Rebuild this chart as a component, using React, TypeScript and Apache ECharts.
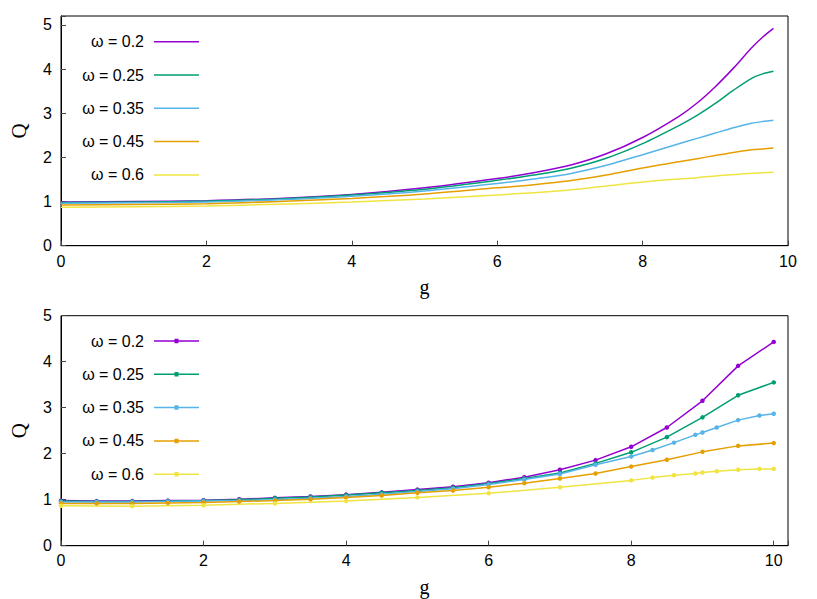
import React, { useEffect, useRef } from 'react';
import * as echarts from 'echarts';

const seriesNames = ['ω = 0.2', 'ω = 0.25', 'ω = 0.35', 'ω = 0.45', 'ω = 0.6'];
const colors = ['#9400d3', '#009e73', '#56b4e9', '#e69f00', '#f0e442'];

// Upper panel (smooth curves)
const topG = [0, 1, 2, 3, 4, 5, 6, 6.5, 7, 7.5, 8, 8.5, 8.75, 9, 9.25, 9.5, 9.65, 9.8];
const topQ020 = [0.99, 1.0, 1.02, 1.07, 1.16, 1.31, 1.52, 1.65, 1.82, 2.08, 2.45, 2.93, 3.23, 3.6, 4.02, 4.48, 4.72, 4.92];
const topQ025 = [0.98, 0.99, 1.01, 1.06, 1.15, 1.28, 1.48, 1.6, 1.75, 1.98, 2.31, 2.72, 2.95, 3.22, 3.52, 3.79, 3.89, 3.95];
const topQ035 = [0.96, 0.97, 0.99, 1.04, 1.12, 1.24, 1.41, 1.51, 1.63, 1.82, 2.06, 2.31, 2.43, 2.55, 2.67, 2.77, 2.81, 2.84];
const topQ045 = [0.92, 0.93, 0.95, 1.0, 1.07, 1.17, 1.31, 1.38, 1.47, 1.6, 1.76, 1.9, 1.97, 2.04, 2.11, 2.17, 2.19, 2.21];
const topQ060 = [0.87, 0.88, 0.9, 0.94, 0.99, 1.06, 1.15, 1.2, 1.26, 1.35, 1.44, 1.51, 1.54, 1.58, 1.61, 1.64, 1.65, 1.66];

// Lower panel (lines with points)
const botG020 = [0, 0.5, 1, 1.5, 2, 2.5, 3, 3.5, 4, 4.5, 5, 5.5, 6, 6.5, 7, 7.5, 8, 8.5, 9, 9.5, 10];
const botQ020 = [0.98, 0.97, 0.97, 0.98, 0.99, 1.01, 1.04, 1.07, 1.11, 1.16, 1.22, 1.28, 1.37, 1.49, 1.65, 1.86, 2.15, 2.57, 3.15, 3.91, 4.43];
const botG025 = [0, 0.5, 1, 1.5, 2, 2.5, 3, 3.5, 4, 4.5, 5, 5.5, 6, 6.5, 7, 7.5, 8, 8.5, 9, 9.5, 10];
const botQ025 = [0.97, 0.96, 0.96, 0.97, 0.98, 1.0, 1.03, 1.06, 1.1, 1.15, 1.2, 1.26, 1.35, 1.46, 1.58, 1.79, 2.03, 2.36, 2.79, 3.27, 3.55];
const botG035 = [0, 0.5, 1, 1.5, 2, 2.5, 3, 3.5, 4, 4.5, 5, 5.5, 6, 6.5, 7, 7.5, 8, 8.3, 8.6, 8.9, 9, 9.2, 9.5, 9.8, 10];
const botQ035 = [0.95, 0.95, 0.95, 0.96, 0.97, 0.98, 1.0, 1.03, 1.07, 1.12, 1.18, 1.24, 1.33, 1.44, 1.56, 1.76, 1.94, 2.08, 2.24, 2.41, 2.46, 2.57, 2.73, 2.83, 2.87];
const botG045 = [0, 0.5, 1, 1.5, 2, 2.5, 3, 3.5, 4, 4.5, 5, 5.5, 6, 6.5, 7, 7.5, 8, 8.5, 9, 9.5, 10];
const botQ045 = [0.92, 0.92, 0.92, 0.93, 0.94, 0.96, 0.98, 1.01, 1.05, 1.09, 1.15, 1.2, 1.27, 1.36, 1.46, 1.57, 1.72, 1.87, 2.04, 2.17, 2.23];
const botG060 = [0, 1, 2, 3, 4, 5, 6, 7, 8, 8.3, 8.6, 8.9, 9, 9.2, 9.5, 9.8, 10];
const botQ060 = [0.87, 0.86, 0.88, 0.92, 0.97, 1.05, 1.14, 1.27, 1.42, 1.48, 1.53, 1.57, 1.59, 1.62, 1.65, 1.67, 1.67];

const xTicks = [0, 2, 4, 6, 8, 10];
const yTicks = [0, 1, 2, 3, 4, 5];

const topQ = [topQ020, topQ025, topQ035, topQ045, topQ060];
const botG = [botG020, botG025, botG035, botG045, botG060];
const botQ = [botQ020, botQ025, botQ035, botQ045, botQ060];

const SANS = 'Liberation Sans, Arial, sans-serif';
const SERIF = 'Liberation Serif, Times New Roman, serif';

const zip = (xs: number[], ys: number[]) => xs.map((x, i) => [x, ys[i]]);

function App() {
  const ref = useRef<HTMLDivElement>(null);
  useEffect(() => {
    if (!ref.current) return;
    const chart = echarts.init(ref.current, null, { renderer: 'svg' });

    const tickFmt = (list: number[]) => (v: number) => (list.includes(v) ? String(v) : '');

    const xAxisBase = (gridIndex: number, max: number, margin: number) => ({
      type: 'value',
      gridIndex,
      min: 0,
      max,
      interval: 2,
      name: 'g',
      nameLocation: 'middle',
      nameGap: 31,
      nameTextStyle: { fontFamily: SERIF, fontSize: 20, color: '#000' },
      axisLine: { show: true, lineStyle: { color: '#000', width: 1 } },
      axisTick: { show: true, inside: true, length: 5, lineStyle: { color: '#444' } },
      axisLabel: { margin, fontFamily: SANS, fontSize: 16, color: '#000', formatter: tickFmt(xTicks) },
      splitLine: { show: false },
    });
    const yAxisBase = (gridIndex: number, max: number) => ({
      type: 'value',
      gridIndex,
      min: 0,
      max,
      interval: 1,
      name: 'Q',
      nameLocation: 'middle',
      nameGap: 32,
      nameTextStyle: { fontFamily: SERIF, fontSize: 21, color: '#000' },
      axisLine: { show: true, lineStyle: { color: '#000', width: 1 } },
      axisTick: { show: true, inside: true, length: 5, lineStyle: { color: '#444' } },
      axisLabel: { margin: 9, fontFamily: SANS, fontSize: 16, color: '#000', formatter: tickFmt(yTicks) },
      splitLine: { show: false },
    });

    const legendBase = (top: number, icon: string) => ({
      orient: 'vertical',
      align: 'right',
      right: 618,
      top,
      padding: 0,
      itemWidth: 45,
      itemHeight: 14,
      itemGap: 17.3,
      icon,
      itemStyle: { borderWidth: 0 },
      textStyle: { fontFamily: SANS, fontSize: 16, color: '#000', lineHeight: 14, padding: [0, 5, 0, 0] },
      selectedMode: false,
    });

    const topSeries = seriesNames.map((name, i) => ({
      name,
      type: 'line',
      xAxisIndex: 0,
      yAxisIndex: 0,
      data: zip(topG, topQ[i]),
      smooth: 0.3,
      showSymbol: false,
      symbol: 'none',
      lineStyle: { color: colors[i], width: 1.5 },
      itemStyle: { color: colors[i] },
    }));
    const botSeries = seriesNames.map((name, i) => ({
      name,
      type: 'line',
      xAxisIndex: 1,
      yAxisIndex: 1,
      data: zip(botG[i], botQ[i]),
      symbol: 'circle',
      symbolSize: 4.5,
      lineStyle: { color: colors[i], width: 1.5 },
      itemStyle: { color: colors[i] },
    }));

    chart.setOption({
      animation: false,
      backgroundColor: '#fff',
      grid: [
        { left: 59, top: 16, width: 729, height: 229.7, show: true, borderColor: '#000', borderWidth: 1, backgroundColor: 'transparent' },
        { left: 59, top: 315.7, width: 729, height: 230, show: true, borderColor: '#000', borderWidth: 1, backgroundColor: 'transparent' },
      ],
      xAxis: [xAxisBase(0, 10, 8), xAxisBase(1, 10.2, 7)],
      yAxis: [yAxisBase(0, 5.2), yAxisBase(1, 5)],
      legend: [
        { ...legendBase(33.7, 'path://M0 0H45V1.5H0Z'), data: seriesNames },
        { ...legendBase(333, 'path://M0 1.5H20.5V0H24.5V1.5H45V3H24.5V4.5H20.5V3H0Z'), data: seriesNames },
      ],
      series: [...topSeries, ...botSeries],
    });
    return () => chart.dispose();
  }, []);
  return <div ref={ref} style={{ position: 'fixed', left: 0, top: 0, width: '817px', height: '599px', background: '#fff' }} />;
}

export default App;
